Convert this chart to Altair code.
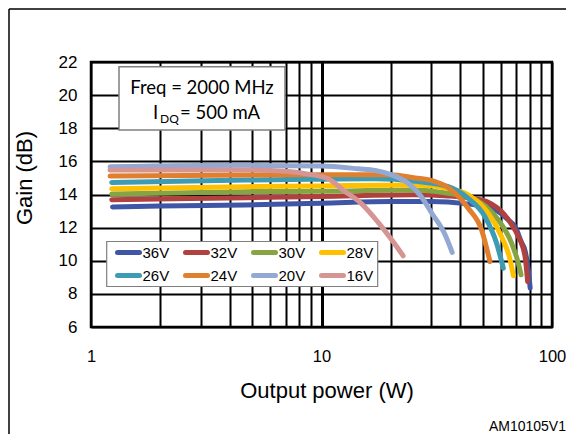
import altair as alt
import pandas as pd

series = ["36V", "32V", "30V", "28V", "26V", "24V", "20V", "16V"]
colors = ["#3F56A6", "#B0413E", "#86A443", "#FFC000", "#3D9CB3", "#E07F2E", "#93A9D3", "#D49593"]

pw_36 = [1.24, 2, 4.66, 10, 20, 30, 42, 50, 58.5, 64.7, 69.1, 73.8, 76.4, 78.9, 80.4]
g_36 = [13.25, 13.3, 13.37, 13.47, 13.57, 13.57, 13.45, 13.3, 12.97, 12.46, 12.06, 11.1, 10.6, 9.45, 8.35]

pw_32 = [1.23, 4.66, 10, 25, 35.5, 49.5, 55, 60.4, 66, 71.4, 76.4, 78.4]
g_32 = [13.69, 13.81, 13.88, 13.98, 13.91, 13.67, 13.4, 12.97, 12.3, 11.46, 10.25, 8.75]

pw_30 = [1.23, 4.66, 10, 25, 35.5, 43, 49.5, 58.5, 66.8, 71.4, 73.4]
g_30 = [14.03, 14.17, 14.2, 14.27, 14.07, 13.85, 13.47, 12.46, 11.06, 9.86, 9.15]

pw_28 = [1.23, 4.66, 10, 25.5, 35.5, 43.3, 52.9, 60.4, 65.8, 68]
g_28 = [14.35, 14.47, 14.52, 14.57, 14.37, 13.97, 12.87, 11.46, 10.06, 9.09]

pw_26 = [1.23, 4.66, 10, 17, 25.5, 35.5, 43.3, 51.2, 57.5, 61.5]
g_26 = [14.73, 14.87, 14.92, 14.95, 14.8, 14.47, 13.77, 12.66, 11.06, 9.55]

pw_24 = [1.21, 4.66, 10, 17.1, 20, 25.5, 30, 36, 43.3, 49.5, 53.8]
g_24 = [15.11, 15.17, 15.2, 15.2, 15.2, 15.0, 14.85, 14.35, 13.17, 11.86, 9.95]

pw_20 = [1.21, 4.66, 10, 14.5, 17.1, 20, 23.8, 27, 30.1, 34.3, 36.9]
g_20 = [15.67, 15.76, 15.72, 15.55, 15.45, 15.2, 14.67, 13.9, 12.87, 11.6, 10.5]

pw_16 = [1.21, 4.66, 7, 9, 10.7, 12.6, 14.9, 17.65, 20.2, 22.6]
g_16 = [15.48, 15.48, 15.4, 15.2, 14.95, 14.2, 13.45, 12.3, 11.25, 10.3]

x_ticks = [1, 2, 3, 4, 5, 6, 7, 8, 9, 10, 20, 30, 40, 50, 60, 70, 80, 90, 100]
x_labels = [1, 10, 100]
y_ticks = [6, 8, 10, 12, 14, 16, 18, 20, 22]

all_pw = [pw_36, pw_32, pw_30, pw_28, pw_26, pw_24, pw_20, pw_16]
all_g = [g_36, g_32, g_30, g_28, g_26, g_24, g_20, g_16]

rows = []
for s, pws, gs in zip(series, all_pw, all_g):
    for i, (p, g) in enumerate(zip(pws, gs)):
        rows.append({"series": s, "P": p, "G": g, "i": i})
df = pd.DataFrame(rows)

color_scale = alt.Scale(domain=series, range=colors)

label_test = "indexof([" + ",".join(str(v) for v in x_labels) + "], datum.value) >= 0"

x_axis = alt.Axis(
    values=x_ticks,
    labelExpr=f"{label_test} ? format(datum.value, 'd') : ''",
    grid=True, gridColor="black", gridOpacity=1,
    gridWidth={"condition": {"test": "datum.value === 10", "value": 3}, "value": 2},
    domain=False, ticks=False, labelFlush=False, labelOverlap=False,
    labelFont="Liberation Sans", labelFontSize=16.5, labelColor="black",
    labelPadding=21, title=None,
)
y_axis = alt.Axis(
    values=y_ticks, grid=True, gridColor="black", gridOpacity=1, gridWidth=2,
    domain=False, ticks=False, labelFlush=False, labelOverlap=False,
    labelFont="Liberation Sans", labelFontSize=17, labelColor="black",
    labelPadding=14, title=None,
)

lines = alt.Chart(df).mark_line(
    strokeWidth=5, strokeCap="round", strokeJoin="round", interpolate="monotone"
).encode(
    x=alt.X("P:Q", scale=alt.Scale(type="log", domain=[1, 100]), axis=x_axis),
    y=alt.Y("G:Q", scale=alt.Scale(domain=[6, 22]), axis=y_axis),
    color=alt.Color("series:N", scale=color_scale, legend=None),
    order="i:Q",
)

one = pd.DataFrame({"k": [0]})

# legend (built from the series list, 4 columns x 2 rows)
leg_df = pd.DataFrame({"series": series, "idx": list(range(len(series)))})
leg_base = alt.Chart(leg_df).transform_calculate(
    col="datum.idx % 4", row="floor(datum.idx / 4)"
).transform_calculate(
    sx1="26.5 + 68 * datum.col", sx2="48.5 + 68 * datum.col",
    lx="51.5 + 68 * datum.col", ly="190.5 + 23 * datum.row",
)
leg_box = alt.Chart(one).mark_rect(fill="white", stroke="#7f7f7f", strokeWidth=1.2).encode(
    x=alt.value(15.7), x2=alt.value(286.7), y=alt.value(179.5), y2=alt.value(224.5)
)
leg_sw = leg_base.mark_rule(strokeWidth=5, strokeCap="round").encode(
    x=alt.X("sx1:Q", scale=None), x2="sx2:Q", y=alt.Y("ly:Q", scale=None),
    color=alt.Color("series:N", scale=color_scale, legend=None),
)
leg_tx = leg_base.mark_text(font="Liberation Sans", fontSize=15, align="left", baseline="middle", color="black").encode(
    x=alt.X("lx:Q", scale=None), y=alt.Y("ly:Q", scale=None), text="series:N"
)

box = alt.Chart(one).mark_rect(fill="white", stroke="#7f7f7f", strokeWidth=1.5).encode(
    x=alt.value(28), x2=alt.value(194), y=alt.value(4.7), y2=alt.value(68)
)
t1 = alt.Chart(one).mark_text(font="Lato", fontSize=18.5, align="center", baseline="alphabetic", color="black").encode(
    x=alt.value(111), y=alt.value(31.5), text=alt.value("Freq = 2000 MHz")
)
t2a = alt.Chart(one).mark_text(font="Lato", fontSize=18.5, align="left", baseline="alphabetic", color="black").encode(
    x=alt.value(62), y=alt.value(56.5), text=alt.value("I")
)
t2b = alt.Chart(one).mark_text(font="Lato", fontSize=12, align="left", baseline="alphabetic", color="black").encode(
    x=alt.value(69), y=alt.value(60.7), text=alt.value("DQ")
)
t2c = alt.Chart(one).mark_text(font="Lato", fontSize=18.5, align="left", baseline="alphabetic", color="black").encode(
    x=alt.value(89), y=alt.value(56.5), text=alt.value("= 500 mA")
)

ytitle = alt.Chart(one).mark_text(font="Liberation Sans", fontSize=22, angle=270, align="center", baseline="middle", color="black").encode(
    x=alt.value(-66.5), y=alt.value(116), text=alt.value("Gain (dB)")
)
xtitle = alt.Chart(one).mark_text(font="Liberation Sans", fontSize=22, align="center", baseline="middle", color="black").encode(
    x=alt.value(236), y=alt.value(329), text=alt.value("Output power (W)")
)
code = alt.Chart(one).mark_text(font="Liberation Sans", fontSize=14, align="right", baseline="middle", color="black").encode(
    x=alt.value(475), y=alt.value(365), text=alt.value("AM10105V1")
)
frame_left = alt.Chart(one).mark_rule(color="black", strokeWidth=1.5).encode(
    x=alt.value(-82), y=alt.value(-53), y2=alt.value(380)
)
frame_top = alt.Chart(one).mark_rule(color="black", strokeWidth=1.5).encode(
    x=alt.value(-82), x2=alt.value(480), y=alt.value(-53)
)

chart = alt.layer(
    lines, box, t1, t2a, t2b, t2c, leg_box, leg_sw, leg_tx, ytitle, xtitle, code, frame_left, frame_top
).properties(
    width=461, height=265,
    padding={"left": 83, "top": 54, "right": 14, "bottom": 107},
    autosize="none",
    background="white",
).configure_view(stroke="black", strokeWidth=2.5)

chart.save("out.html", embed_options={"renderer": "svg", "actions": False})
